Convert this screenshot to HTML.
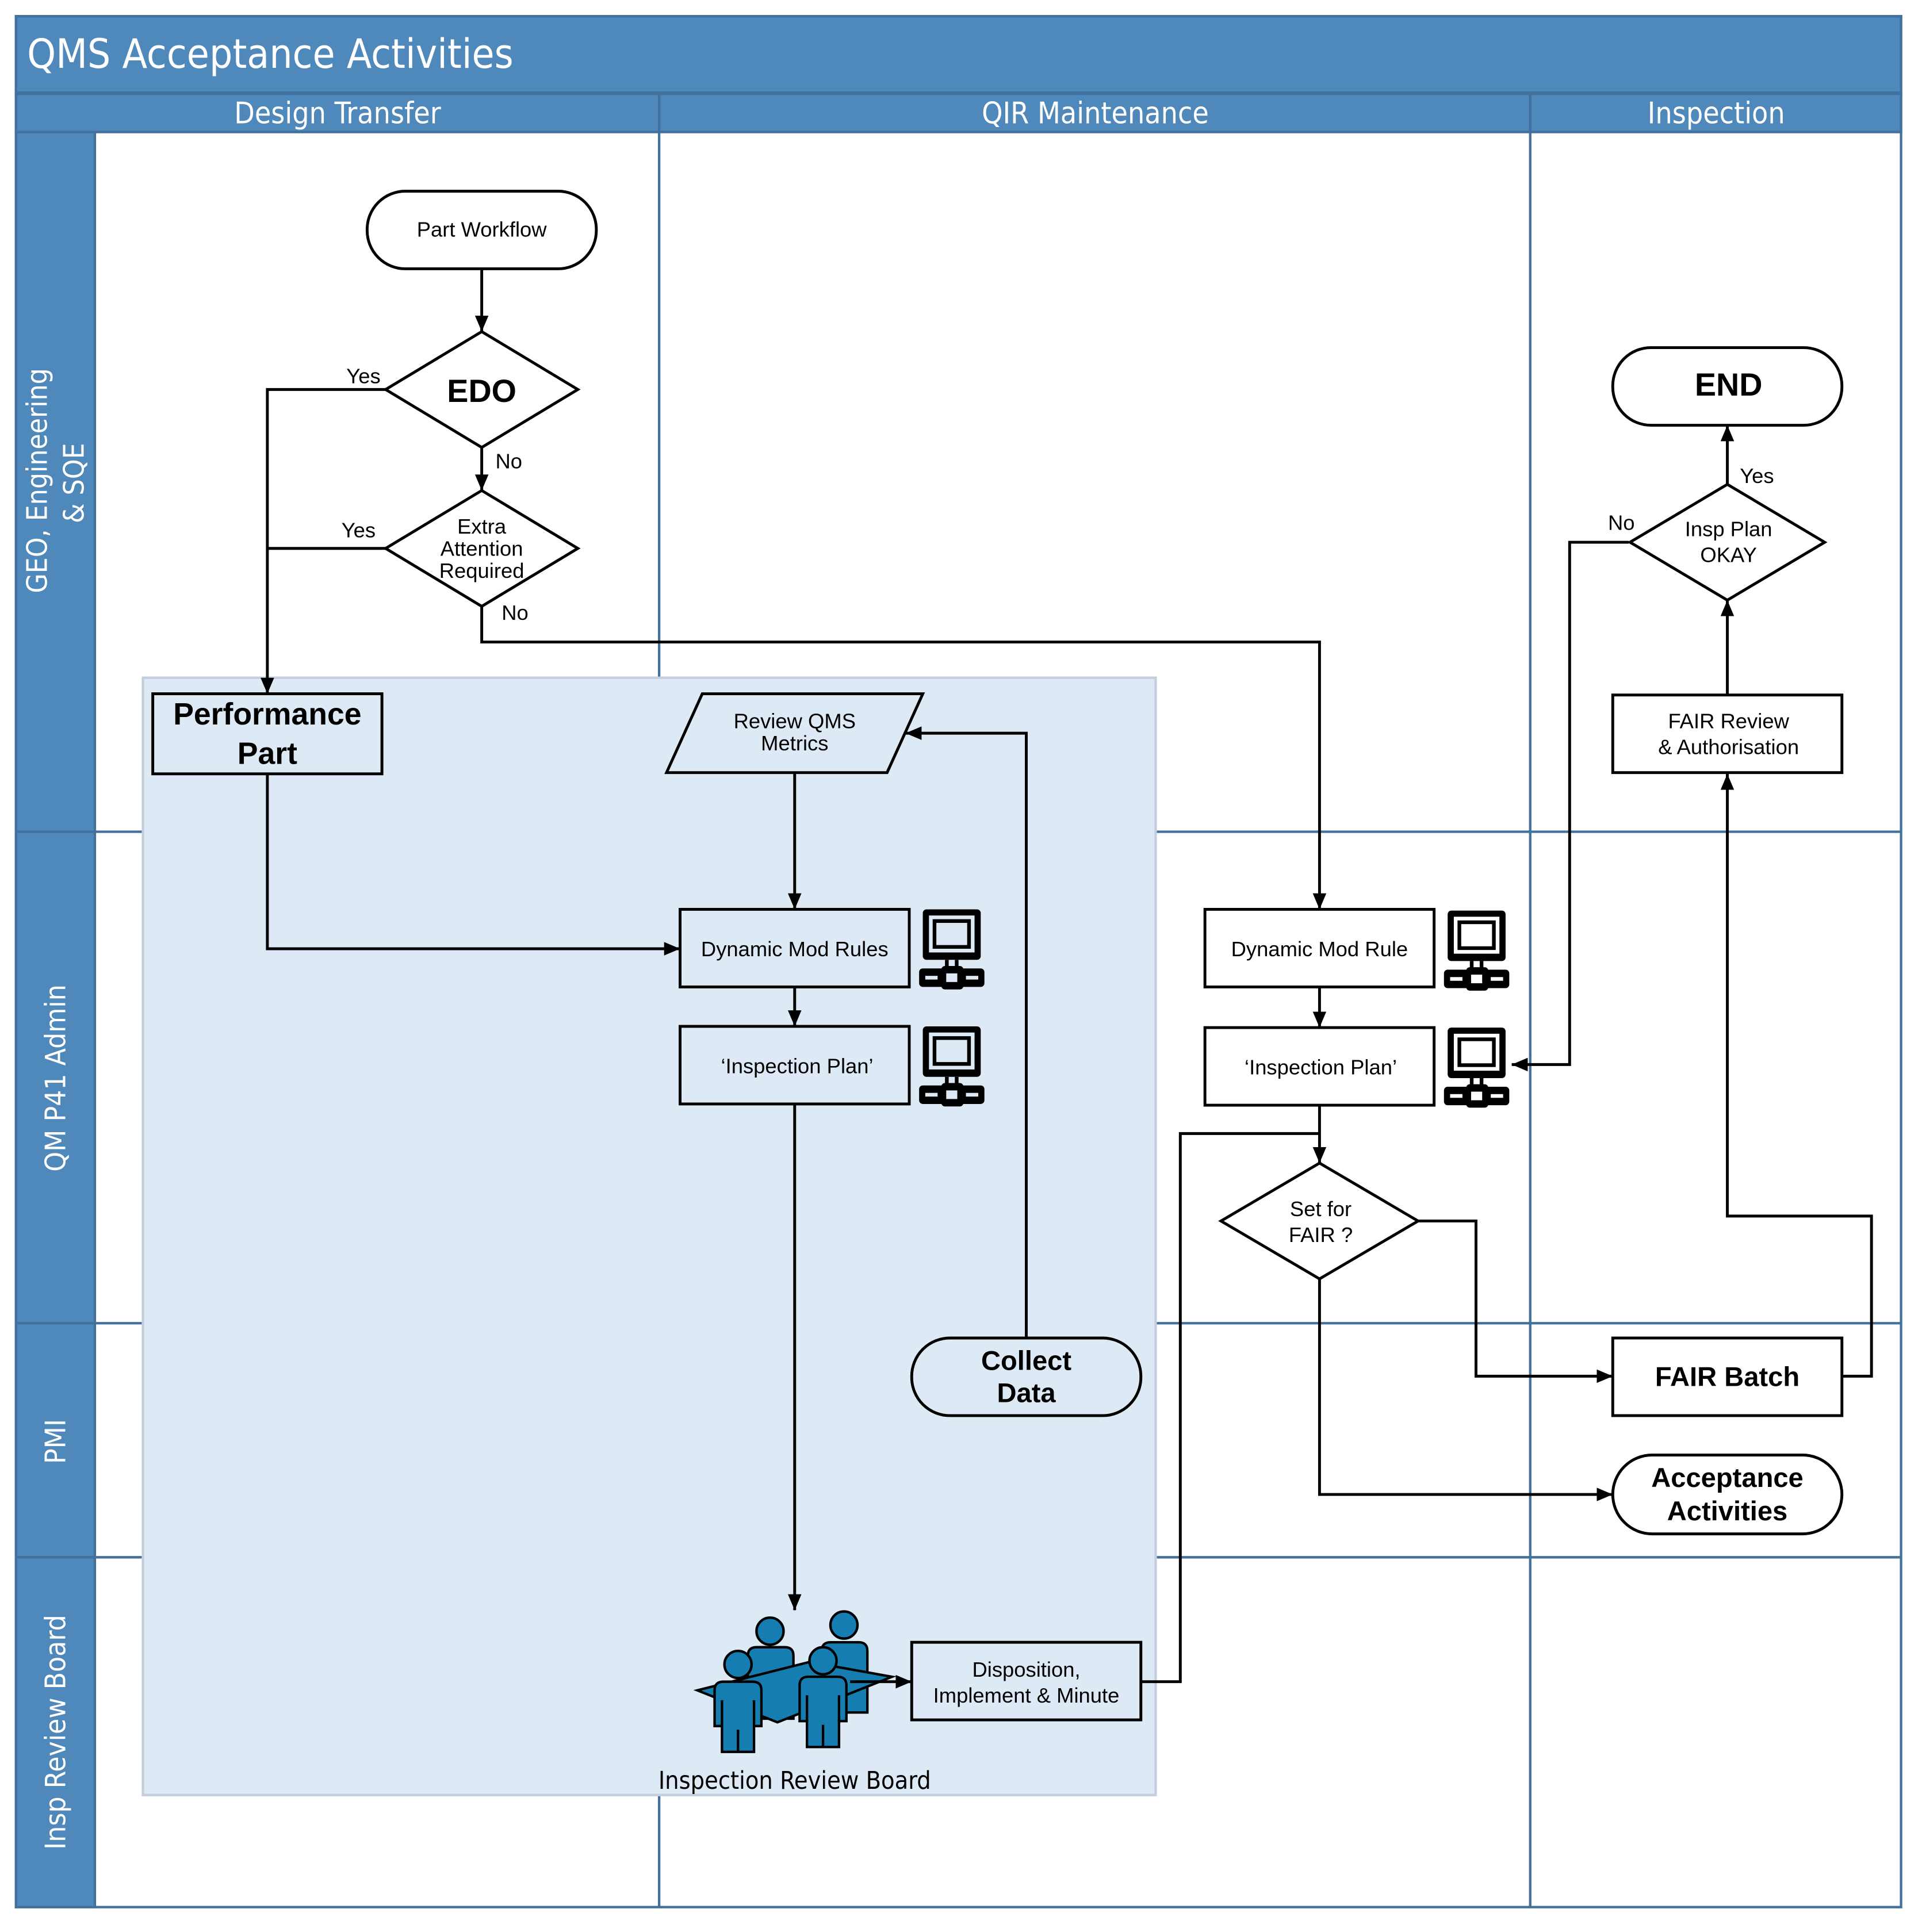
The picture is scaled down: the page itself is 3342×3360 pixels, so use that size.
<!DOCTYPE html>
<html><head><meta charset="utf-8"><style>
html,body{margin:0;padding:0;background:#fff}
svg{display:block}
text{font-family:"Liberation Sans",Arial,sans-serif}
.h{font-family:"DejaVu Sans Condensed","Liberation Sans",sans-serif;fill:#fff}
</style></head><body>
<svg width="3342" height="3360" viewBox="0 0 1560 1568" xmlns="http://www.w3.org/2000/svg">
<defs>
<marker id="a" viewBox="0 0 13 11" refX="13" refY="5.5" markerWidth="13" markerHeight="11" markerUnits="userSpaceOnUse" orient="auto"><path d="M0,0 L13,5.5 L0,11 z" fill="#000"/></marker>
<g id="pc">
<rect x="4" y="1" width="47" height="41" rx="3" fill="#000"/>
<rect x="9" y="6" width="37" height="30" fill="#dde9f5"/>
<rect x="12" y="9" width="31" height="24" fill="#000"/>
<rect x="15" y="12" width="25" height="18" fill="#dde9f5"/>
<rect x="22" y="42" width="3" height="8" fill="#000"/><rect x="30" y="42" width="3" height="8" fill="#000"/>
<rect x="1" y="49" width="53" height="15" rx="3" fill="#000"/>
<rect x="19" y="47" width="18" height="19" rx="3" fill="#000"/>
<rect x="6" y="55" width="10" height="3" fill="#dde9f5"/><rect x="39" y="55" width="10" height="3" fill="#dde9f5"/>
<rect x="23" y="53" width="9" height="7" fill="#dde9f5"/>
</g>
<g id="pcw">
<rect x="4" y="1" width="47" height="41" rx="3" fill="#000"/>
<rect x="9" y="6" width="37" height="30" fill="#fff"/>
<rect x="12" y="9" width="31" height="24" fill="#000"/>
<rect x="15" y="12" width="25" height="18" fill="#fff"/>
<rect x="22" y="42" width="3" height="8" fill="#000"/><rect x="30" y="42" width="3" height="8" fill="#000"/>
<rect x="1" y="49" width="53" height="15" rx="3" fill="#000"/>
<rect x="19" y="47" width="18" height="19" rx="3" fill="#000"/>
<rect x="6" y="55" width="10" height="3" fill="#fff"/><rect x="39" y="55" width="10" height="3" fill="#fff"/>
<rect x="23" y="53" width="9" height="7" fill="#fff"/>
</g>
</defs>
<rect width="1560" height="1568" fill="#fff"/>
<rect x="13" y="13" width="1530" height="62" fill="#4f88bb" stroke="#41719c" stroke-width="2"/>
<text class="h" x="22" y="55" font-size="33">QMS Acceptance Activities</text>
<rect x="13" y="76" width="1530" height="31" fill="#4f88bb" stroke="#41719c" stroke-width="2"/>
<text class="h" x="274" y="100" font-size="24" text-anchor="middle">Design Transfer</text>
<text class="h" x="889" y="100" font-size="24" text-anchor="middle">QIR Maintenance</text>
<text class="h" x="1393" y="100" font-size="24" text-anchor="middle">Inspection</text>
<line x1="535" y1="76" x2="535" y2="107" stroke="#41719c" stroke-width="2"/>
<line x1="1242" y1="76" x2="1242" y2="107" stroke="#41719c" stroke-width="2"/>
<rect x="13" y="107" width="64" height="1441" fill="#4f88bb" stroke="#41719c" stroke-width="2"/>
<g stroke="#41719c" stroke-width="2">
<line x1="13" y1="675" x2="1543" y2="675"/>
<line x1="13" y1="1074" x2="1543" y2="1074"/>
<line x1="13" y1="1264" x2="1543" y2="1264"/>
<line x1="535" y1="107" x2="535" y2="1548"/>
<line x1="1242" y1="107" x2="1242" y2="1548"/>
<rect x="13" y="13" width="1530" height="1535" fill="none"/>
</g>
<text class="h" font-size="23" text-anchor="middle" transform="translate(38,390) rotate(-90)">GEO, Engineering</text>
<text class="h" font-size="23" text-anchor="middle" transform="translate(68,392) rotate(-90)">&amp; SQE</text>
<text class="h" font-size="23" text-anchor="middle" transform="translate(53,875) rotate(-90)">QM P41 Admin</text>
<text class="h" font-size="23" text-anchor="middle" transform="translate(53,1170) rotate(-90)">PMI</text>
<text class="h" font-size="23" text-anchor="middle" transform="translate(53,1406) rotate(-90)">Insp Review Board</text>
<rect x="116" y="550" width="822" height="907" fill="#dde9f5" stroke="#c4cfdb" stroke-width="2"/>
<g fill="none" stroke="#000" stroke-width="2.3">
<path d="M391,218 V269" marker-end="url(#a)"/>
<path d="M391,363 V398" marker-end="url(#a)"/>
<path d="M313,316 H217 V563" marker-end="url(#a)"/>
<path d="M313,445 H217"/>
<path d="M391,492 V521 H1071 V738" marker-end="url(#a)"/>
<path d="M217,628 V770 H552" marker-end="url(#a)"/>
<path d="M645,627 V738" marker-end="url(#a)"/>
<path d="M645,801 V833" marker-end="url(#a)"/>
<path d="M645,896 V1307" marker-end="url(#a)"/>
<path d="M833,1086 V595 H735" marker-end="url(#a)"/>
<path d="M926,1365 H958 V920 H1071"/>
<path d="M1071,801 V834" marker-end="url(#a)"/>
<path d="M1071,897 V944" marker-end="url(#a)"/>
<path d="M1151,991 H1198 V1117 H1309" marker-end="url(#a)"/>
<path d="M1071,1038 V1213 H1309" marker-end="url(#a)"/>
<path d="M1495,1117 H1519 V987 H1402 V628" marker-end="url(#a)"/>
<path d="M1402,564 V487" marker-end="url(#a)"/>
<path d="M1402,393 V345" marker-end="url(#a)"/>
<path d="M1322,440 H1274 V864 H1227" marker-end="url(#a)"/>
</g>
<g fill="#fff" stroke="#000" stroke-width="2.3">
<rect x="298" y="155" width="186" height="63" rx="31"/>
<path d="M391,269 L469,316 L391,363 L313,316 z"/>
<path d="M391,398 L469,445 L391,492 L313,445 z"/>
<rect x="1309" y="282" width="186" height="63" rx="31"/>
<path d="M1402,393 L1481,440 L1402,487 L1323,440 z"/>
<rect x="1309" y="564" width="186" height="63"/>
<rect x="978" y="738" width="186" height="63"/>
<rect x="978" y="834" width="186" height="63"/>
<path d="M1071,944 L1151,991 L1071,1038 L991,991 z"/>
<rect x="1309" y="1086" width="186" height="63"/>
<rect x="1309" y="1181" width="186" height="64" rx="32"/>
</g>
<g fill="#dde9f5" stroke="#000" stroke-width="2.3">
<rect x="124" y="563" width="186" height="65"/>
<path d="M570,563 H749 L720,627 H541 z"/>
<rect x="552" y="738" width="186" height="63"/>
<rect x="552" y="833" width="186" height="63"/>
<rect x="740" y="1086" width="186" height="63" rx="31"/>
<rect x="740" y="1333" width="186" height="63"/>
</g>
<use href="#pc" x="745" y="737"/>
<use href="#pc" x="745" y="832"/>
<use href="#pcw" x="1171" y="738"/>
<use href="#pcw" x="1171" y="833"/>
<!-- people -->
<g fill="#157db0" stroke="#000" stroke-width="2">
<path d="M607,1395 V1344 Q607,1337 614,1337 H637 Q644,1337 644,1344 V1395 z"/>
<circle cx="625" cy="1324" r="11"/>
<path d="M667,1390 V1340 Q667,1333 674,1333 H697 Q704,1333 704,1340 V1390 z"/>
<circle cx="685" cy="1319" r="11"/>
<path d="M566,1372 L657,1349 L724,1361 L631,1398 z"/>
<path d="M580,1401 V1372 Q580,1365 587,1365 H611 Q618,1365 618,1372 V1401 H612 V1422 H586 V1401 z"/>
<circle cx="599" cy="1351" r="11"/>
<path d="M649,1397 V1368 Q649,1361 656,1361 H680 Q687,1361 687,1368 V1397 H681 V1418 H655 V1397 z"/>
<circle cx="668" cy="1348" r="11"/>
</g>
<g stroke="#000" stroke-width="2">
<line x1="586" y1="1380" x2="586" y2="1401"/><line x1="612" y1="1380" x2="612" y2="1401"/><line x1="599" y1="1404" x2="599" y2="1422"/>
<line x1="655" y1="1376" x2="655" y2="1397"/><line x1="681" y1="1376" x2="681" y2="1397"/><line x1="668" y1="1400" x2="668" y2="1418"/>
</g>
<path d="M690,1365 H740" fill="none" stroke="#000" stroke-width="2.3" marker-end="url(#a)"/>
<g font-size="17" text-anchor="middle" fill="#000">
<text x="391" y="192">Part Workflow</text>
<text x="391" y="326" font-size="26" font-weight="bold">EDO</text>
<text x="391" y="433">Extra</text>
<text x="391" y="451">Attention</text>
<text x="391" y="469">Required</text>
<text x="295" y="311">Yes</text>
<text x="291" y="436">Yes</text>
<text x="413" y="380">No</text>
<text x="418" y="503">No</text>
<text x="217" y="588" font-size="25" font-weight="bold">Performance</text>
<text x="217" y="620" font-size="25" font-weight="bold">Part</text>
<text x="645" y="591">Review QMS</text>
<text x="645" y="609">Metrics</text>
<text x="645" y="776">Dynamic Mod Rules</text>
<text x="647" y="871">‘Inspection Plan’</text>
<text x="833" y="1112" font-size="22" font-weight="bold">Collect</text>
<text x="833" y="1138" font-size="22" font-weight="bold">Data</text>
<text x="833" y="1361">Disposition,</text>
<text x="833" y="1382">Implement &amp; Minute</text>
<text x="645" y="1452" font-size="20" style="font-family:'DejaVu Sans Condensed','Liberation Sans',sans-serif">Inspection Review Board</text>
<text x="1071" y="776">Dynamic Mod Rule</text>
<text x="1072" y="872">‘Inspection Plan’</text>
<text x="1072" y="987">Set for</text>
<text x="1072" y="1008">FAIR ?</text>
<text x="1402" y="1125" font-size="22" font-weight="bold">FAIR Batch</text>
<text x="1402" y="1207" font-size="22" font-weight="bold">Acceptance</text>
<text x="1402" y="1234" font-size="22" font-weight="bold">Activities</text>
<text x="1403" y="591">FAIR Review</text>
<text x="1403" y="612">&amp; Authorisation</text>
<text x="1403" y="435">Insp Plan</text>
<text x="1403" y="456">OKAY</text>
<text x="1403" y="321" font-size="26" font-weight="bold">END</text>
<text x="1426" y="392">Yes</text>
<text x="1316" y="430">No</text>
</g>
</svg>
</body></html>
